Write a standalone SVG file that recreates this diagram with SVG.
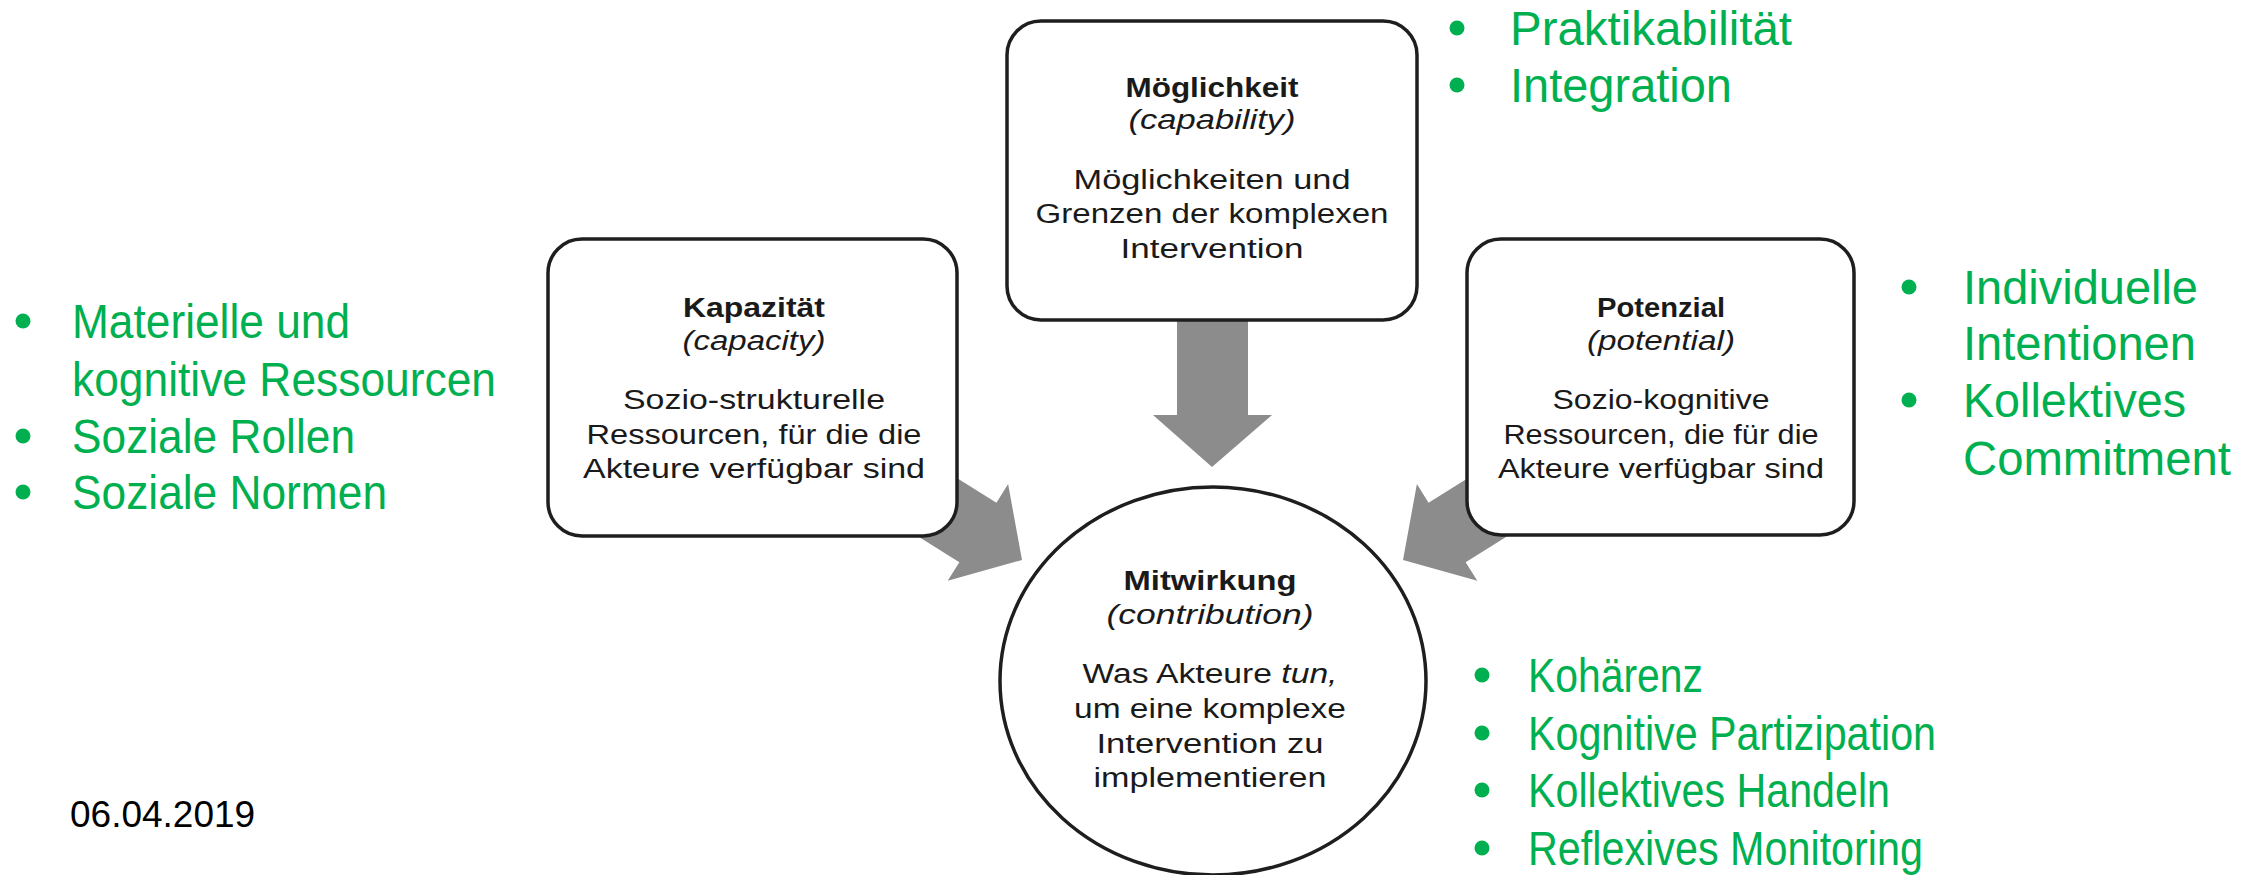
<svg xmlns="http://www.w3.org/2000/svg" width="2251" height="875" viewBox="0 0 2251 875">
<style>
.box{fill:#fff;stroke:#1e1e1e;stroke-width:3.5}
.arrow{fill:#8c8c8c;stroke:none}
.t{font-family:"Liberation Sans",Arial,sans-serif;font-size:27px;fill:#1a1a1a;text-anchor:middle}
.b{font-weight:bold}
.i{font-style:italic}
.g{font-family:"Liberation Sans",Arial,sans-serif;font-size:48px;fill:#00B050}
.bu{fill:#00B050}
.d{font-family:"Liberation Sans",Arial,sans-serif;font-size:37px;fill:#000}
</style>
<rect width="2251" height="875" fill="#fff"/>
<g id="connectors">
  <polygon class="arrow" points="1177,300 1248,300 1248,415 1272,415 1212,467 1153,415 1177,415"/>
  <polygon class="arrow" transform="translate(1022,560) rotate(32)" points="0,0 -52,-57 -52,-35 -160,-35 -160,35 -52,35 -52,57"/>
  <polygon class="arrow" transform="translate(1403,560) rotate(148)" points="0,0 -52,-57 -52,-35 -160,-35 -160,35 -52,35 -52,57"/>
</g>
<g id="moeglichkeit">
  <rect class="box" x="1007" y="21" width="410" height="299" rx="34"/>
  <text class="t b" x="1212" y="97" textLength="173" lengthAdjust="spacingAndGlyphs">Möglichkeit</text>
  <text class="t i" x="1212" y="129" textLength="167" lengthAdjust="spacingAndGlyphs">(capability)</text>
  <text class="t" x="1212" y="189" textLength="277" lengthAdjust="spacingAndGlyphs">Möglichkeiten und</text>
  <text class="t" x="1212" y="223" textLength="353" lengthAdjust="spacingAndGlyphs">Grenzen der komplexen</text>
  <text class="t" x="1212" y="258" textLength="183" lengthAdjust="spacingAndGlyphs">Intervention</text>
</g>
<g id="kapazitaet">
  <rect class="box" x="548" y="239" width="409" height="297" rx="34"/>
  <text class="t b" x="754" y="317" textLength="142" lengthAdjust="spacingAndGlyphs">Kapazität</text>
  <text class="t i" x="754" y="350" textLength="143" lengthAdjust="spacingAndGlyphs">(capacity)</text>
  <text class="t" x="754" y="409" textLength="262" lengthAdjust="spacingAndGlyphs">Sozio-strukturelle</text>
  <text class="t" x="754" y="444" textLength="335" lengthAdjust="spacingAndGlyphs">Ressourcen, für die die</text>
  <text class="t" x="754" y="478" textLength="342" lengthAdjust="spacingAndGlyphs">Akteure verfügbar sind</text>
</g>
<g id="potenzial">
  <rect class="box" x="1467" y="239" width="387" height="296" rx="34"/>
  <text class="t b" x="1661" y="317" textLength="128" lengthAdjust="spacingAndGlyphs">Potenzial</text>
  <text class="t i" x="1661" y="350" textLength="148" lengthAdjust="spacingAndGlyphs">(potential)</text>
  <text class="t" x="1661" y="409" textLength="217" lengthAdjust="spacingAndGlyphs">Sozio-kognitive</text>
  <text class="t" x="1661" y="444" textLength="315" lengthAdjust="spacingAndGlyphs">Ressourcen, die für die</text>
  <text class="t" x="1661" y="478" textLength="326" lengthAdjust="spacingAndGlyphs">Akteure verfügbar sind</text>
</g>
<g id="mitwirkung">
  <ellipse class="box" cx="1213" cy="681" rx="213" ry="194"/>
  <text class="t b" x="1210" y="590" textLength="173" lengthAdjust="spacingAndGlyphs">Mitwirkung</text>
  <text class="t i" x="1210" y="624" textLength="207" lengthAdjust="spacingAndGlyphs">(contribution)</text>
  <text class="t" x="1210" y="683" textLength="255" lengthAdjust="spacingAndGlyphs">Was Akteure <tspan class="i">tun,</tspan></text>
  <text class="t" x="1210" y="718" textLength="272" lengthAdjust="spacingAndGlyphs">um eine komplexe</text>
  <text class="t" x="1210" y="753" textLength="227" lengthAdjust="spacingAndGlyphs">Intervention zu</text>
  <text class="t" x="1210" y="787" textLength="233" lengthAdjust="spacingAndGlyphs">implementieren</text>
</g>
<g id="liste-kapazitaet">
  <circle class="bu" cx="23" cy="321" r="7.5"/>
  <text class="g" x="72" y="338" textLength="278" lengthAdjust="spacingAndGlyphs">Materielle und</text>
  <text class="g" x="72" y="396" textLength="424" lengthAdjust="spacingAndGlyphs">kognitive Ressourcen</text>
  <circle class="bu" cx="23" cy="436" r="7.5"/>
  <text class="g" x="72" y="453" textLength="283" lengthAdjust="spacingAndGlyphs">Soziale Rollen</text>
  <circle class="bu" cx="23" cy="492" r="7.5"/>
  <text class="g" x="72" y="509" textLength="315" lengthAdjust="spacingAndGlyphs">Soziale Normen</text>
</g>
<g id="liste-moeglichkeit">
  <circle class="bu" cx="1457" cy="28" r="7.5"/>
  <text class="g" x="1510" y="45" textLength="282" lengthAdjust="spacingAndGlyphs">Praktikabilität</text>
  <circle class="bu" cx="1457" cy="85" r="7.5"/>
  <text class="g" x="1510" y="102" textLength="222" lengthAdjust="spacingAndGlyphs">Integration</text>
</g>
<g id="liste-potenzial">
  <circle class="bu" cx="1909" cy="287" r="7.5"/>
  <text class="g" x="1963" y="304" textLength="235" lengthAdjust="spacingAndGlyphs">Individuelle</text>
  <text class="g" x="1963" y="360" textLength="233" lengthAdjust="spacingAndGlyphs">Intentionen</text>
  <circle class="bu" cx="1909" cy="400" r="7.5"/>
  <text class="g" x="1963" y="417" textLength="223" lengthAdjust="spacingAndGlyphs">Kollektives</text>
  <text class="g" x="1963" y="475" textLength="268" lengthAdjust="spacingAndGlyphs">Commitment</text>
</g>
<g id="liste-mitwirkung">
  <circle class="bu" cx="1482" cy="675" r="7.5"/>
  <text class="g" x="1528" y="692" textLength="175" lengthAdjust="spacingAndGlyphs">Kohärenz</text>
  <circle class="bu" cx="1482" cy="733" r="7.5"/>
  <text class="g" x="1528" y="750" textLength="408" lengthAdjust="spacingAndGlyphs">Kognitive Partizipation</text>
  <circle class="bu" cx="1482" cy="790" r="7.5"/>
  <text class="g" x="1528" y="807" textLength="362" lengthAdjust="spacingAndGlyphs">Kollektives Handeln</text>
  <circle class="bu" cx="1482" cy="848" r="7.5"/>
  <text class="g" x="1528" y="865" textLength="395" lengthAdjust="spacingAndGlyphs">Reflexives Monitoring</text>
</g>
<g id="datum">
  <text class="d" x="70" y="827">06.04.2019</text>
</g>
</svg>
